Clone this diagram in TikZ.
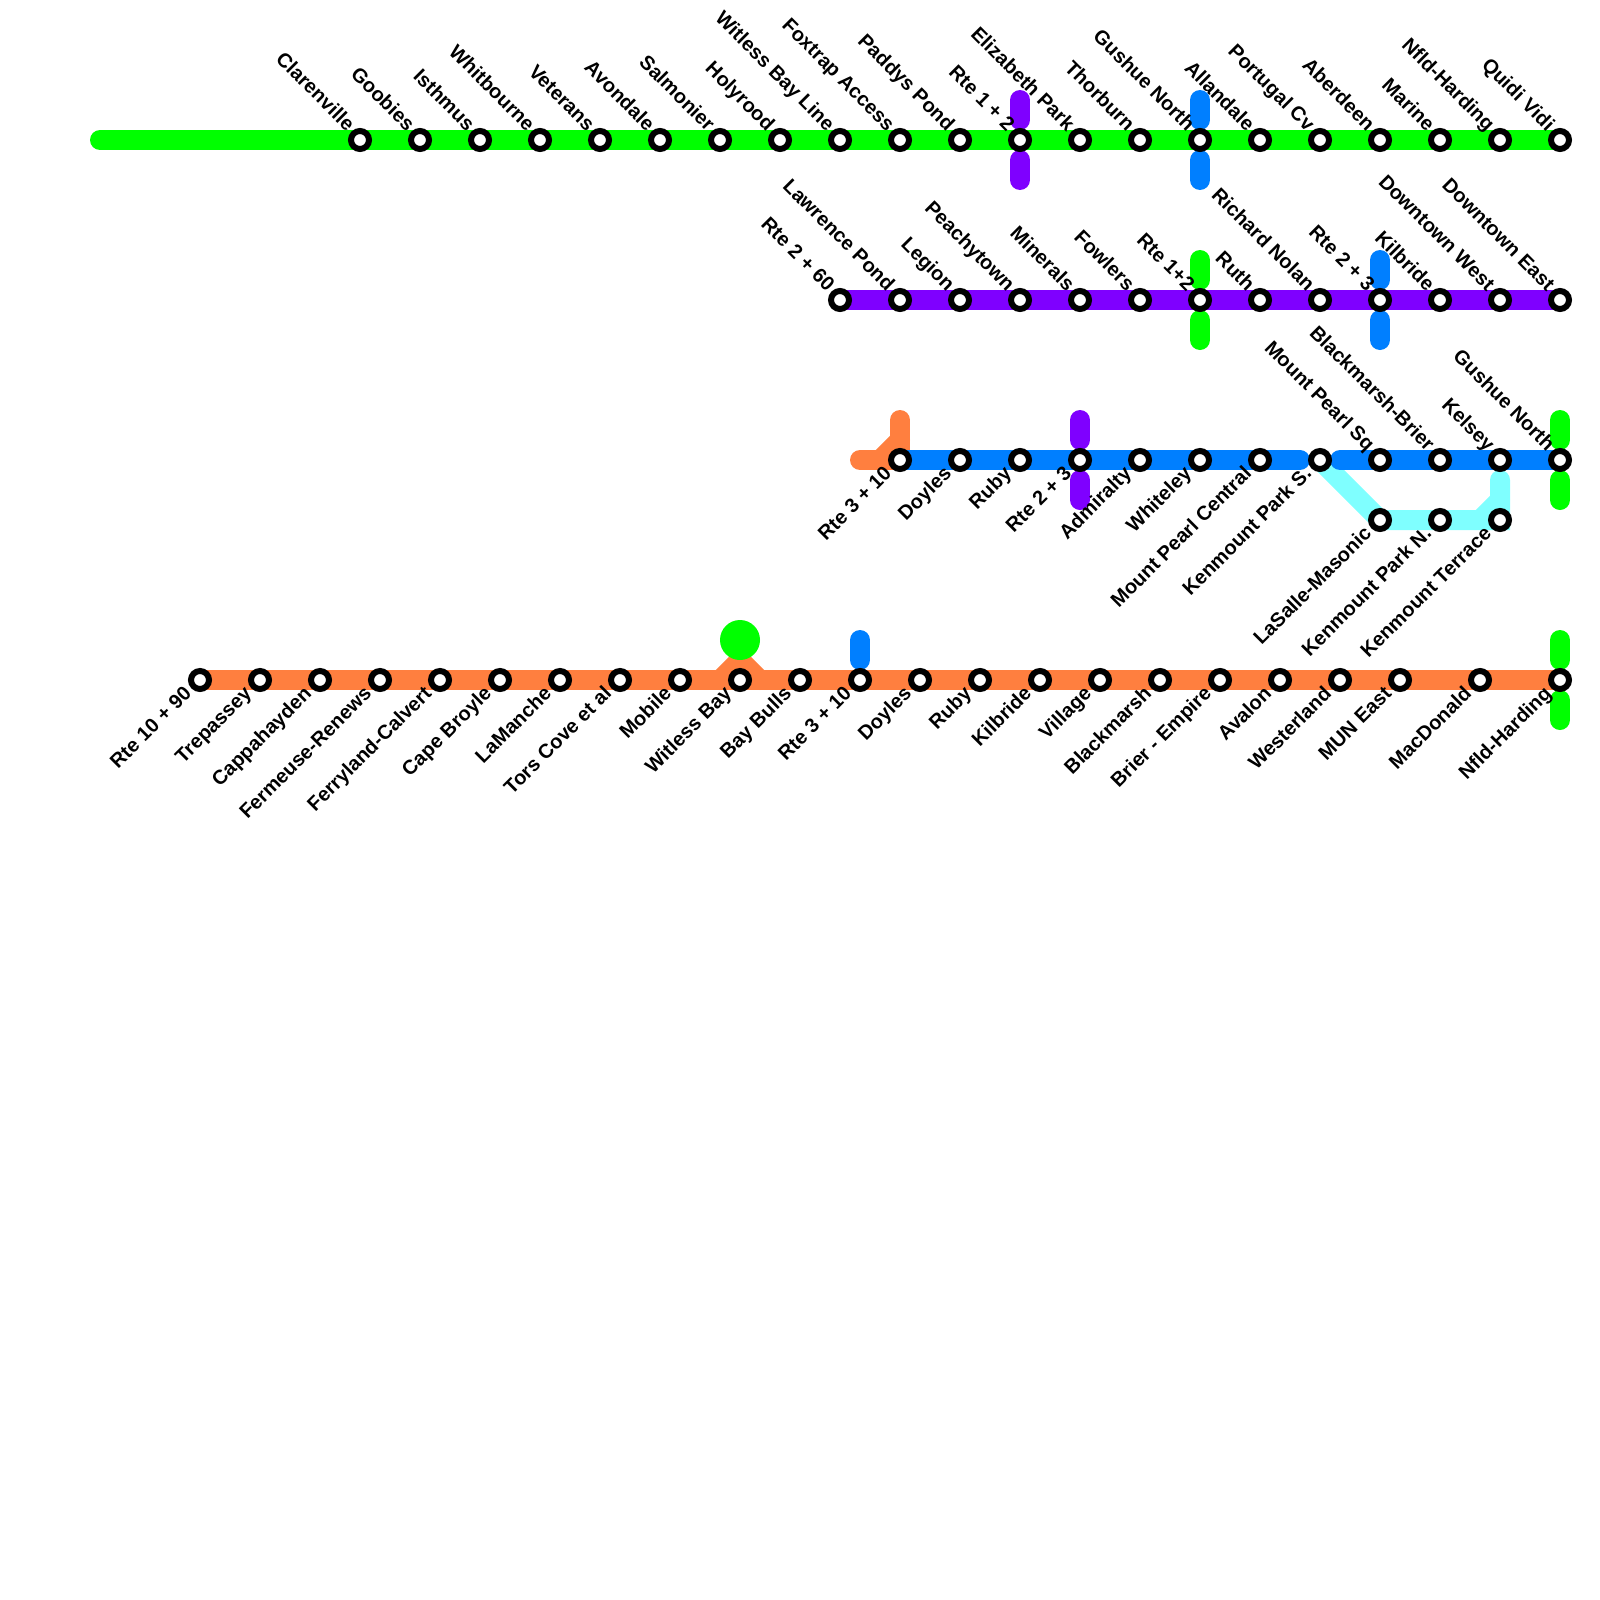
\documentclass[tikz,border=0pt]{standalone}
\usepackage{fontspec}
\setmainfont{Liberation Sans}
\usetikzlibrary{backgrounds,calc}

\definecolor{lnGreen}{RGB}{0,255,0}
\definecolor{lnPurple}{RGB}{127,0,255}
\definecolor{lnBlue}{RGB}{0,127,255}
\definecolor{lnOrange}{RGB}{255,127,63}
\definecolor{lnCyan}{RGB}{127,255,255}

\begin{document}
\begin{tikzpicture}[x=1pt, y=-1pt,
    stn/.style={circle, draw=black, fill=white, line width=6pt, minimum size=18pt, inner sep=0pt, outer sep=0pt},
    lab/.style={font=\bfseries\fontsize{20}{24}\selectfont, inner sep=0pt, outer sep=0pt, text=black},
    labNW/.style={lab, rotate=-45, anchor=base east},
    labSW/.style={lab, rotate=45, anchor=base east},
    route/.style={line width=20pt, line cap=round, line join=miter}]
  \def\rowG{140}
  \def\rowP{300}
  \def\rowB{460}
  \def\rowC{520}
  \def\rowO{680}
  \def\upx{-13.5}    % label end, above the stop
  \def\upy{-8}
  \def\dnx{-7.5}     % label end, below the stop
  \def\dny{15}

  \useasboundingbox (0,0) rectangle (1600,1600);

  % ----- green stops -----
  \foreach \x/\lab [count=\i] in {360/Clarenville, 420/Goobies, 480/Isthmus, 540/Whitbourne,
      600/Veterans, 660/Avondale, 720/Salmonier, 780/Holyrood, 840/Witless Bay Line,
      900/Foxtrap Access, 960/Paddys Pond, 1020/Rte 1 + 2, 1080/Elizabeth Park, 1140/Thorburn,
      1200/Gushue North, 1260/Allandale, 1320/Portugal Cv, 1380/Aberdeen, 1440/Marine,
      1500/Nfld-Harding, 1560/Quidi Vidi} {
    \node[stn] (g\i) at (\x,\rowG) {};
    \node[labNW] (gl\i) at (\x+\upx,\rowG+\upy) {\lab};
  }

  % ----- purple stops -----
  \foreach \x/\lab [count=\i] in {840/Rte 2 + 60, 900/Lawrence Pond, 960/Legion, 1020/Peachytown,
      1080/Minerals, 1140/Fowlers, 1200/Rte 1+2, 1260/Ruth, 1320/Richard Nolan, 1380/Rte 2 + 3,
      1440/Kilbride, 1500/Downtown West, 1560/Downtown East} {
    \node[stn] (p\i) at (\x,\rowP) {};
    \node[labNW] (pl\i) at (\x+\upx,\rowP+\upy) {\lab};
  }

  % ----- blue stops -----
  \foreach \x/\lab [count=\i] in {900/Rte 3 + 10, 960/Doyles, 1020/Ruby, 1080/Rte 2 + 3,
      1140/Admiralty, 1200/Whiteley, 1260/Mount Pearl Central, 1320/Kenmount Park S.} {
    \node[stn] (b\i) at (\x,\rowB) {};
    \node[labSW] (bl\i) at (\x+\dnx,\rowB+\dny) {\lab};
  }
  \foreach \x/\lab [count=\i] in {1380/Mount Pearl Sq, 1440/Blackmarsh-Brier, 1500/Kelsey,
      1560/Gushue North} {
    \node[stn] (e\i) at (\x,\rowB) {};
    \node[labNW] (el\i) at (\x+\upx,\rowB+\upy) {\lab};
  }

  % ----- cyan stops -----
  \foreach \x/\lab [count=\i] in {1380/LaSalle-Masonic, 1440/Kenmount Park N., 1500/Kenmount Terrace} {
    \node[stn] (c\i) at (\x,\rowC) {};
    \node[labSW] (cl\i) at (\x+\dnx,\rowC+\dny) {\lab};
  }

  % ----- orange stops -----
  \foreach \x/\lab [count=\i] in {200/Rte 10 + 90, 260/Trepassey, 320/Cappahayden, 380/Fermeuse-Renews,
      440/Ferryland-Calvert, 500/Cape Broyle, 560/LaManche, 620/Tors Cove et al, 680/Mobile,
      740/Witless Bay, 800/Bay Bulls, 860/Rte 3 + 10, 920/Doyles, 980/Ruby, 1040/Kilbride,
      1100/Village, 1160/Blackmarsh, 1220/Brier - Empire, 1280/Avalon, 1340/Westerland,
      1400/MUN East, 1480/MacDonald, 1560/Nfld-Harding} {
    \node[stn] (o\i) at (\x,\rowO) {};
    \node[labSW] (ol\i) at (\x+\dnx,\rowO+\dny) {\lab};
  }

  \node[circle, fill=lnGreen, minimum size=40pt, inner sep=0pt, outer sep=0pt] (wbGreen) at (740,640) {};

  % free line ends
  \coordinate (gStart) at (100,\rowG);
  \coordinate (bTail) at (860,\rowB);
  \coordinate (bTailUp) at (900,420);
  \coordinate (bTailA) at (880,\rowB);
  \coordinate (bTailB) at (900,440);
  \coordinate (bEndL) at (1300,\rowB);
  \coordinate (bEndR) at (1340,\rowB);
  \coordinate (cTop) at (1500,480);
  \coordinate (cCutA) at (1480,\rowC);
  \coordinate (cCutB) at (1500,500);
  \coordinate (hatL) at (720,\rowO);
  \coordinate (hatTop) at (740,660);
  \coordinate (hatR) at (760,\rowO);

  \begin{pgfonlayer}{background}
    % ----- routes -----
    \draw[route, lnGreen] (gStart) -- (g21.center);
    \draw[route, lnPurple] (p1.center) -- (p13.center);
    \draw[route, lnOrange] (bTail) -- (b1.center) -- (bTailUp);
    \draw[route, lnOrange] (bTailA) -- (bTailB);
    \draw[route, lnCyan] (b8.center) -- (c1.center) -- (c3.center) -- (cTop);
    \draw[route, lnCyan] (cCutA) -- (cCutB);
    \draw[route, lnBlue] (b1.center) -- (bEndL);
    \draw[route, lnBlue] (bEndR) -- (e4.center);
    \draw[route, lnOrange] (o1.center) -- (o23.center);
    \draw[route, lnOrange] (hatL) -- (hatTop) -- (hatR);

    % ----- transfer stubs -----
    \foreach \st/\col in {g12/lnPurple, g15/lnBlue, p7/lnGreen, p10/lnBlue, b4/lnPurple, e4/lnGreen, o23/lnGreen} {
      \draw[route, \col] ($(\st.center)+(0,-40)$) -- ($(\st.center)+(0,-20)$);
      \draw[route, \col] ($(\st.center)+(0,20)$) -- ($(\st.center)+(0,40)$);
    }
    \draw[route, lnBlue] ($(o12.center)+(0,-40)$) -- ($(o12.center)+(0,-20)$);
  \end{pgfonlayer}
\end{tikzpicture}
\end{document}
